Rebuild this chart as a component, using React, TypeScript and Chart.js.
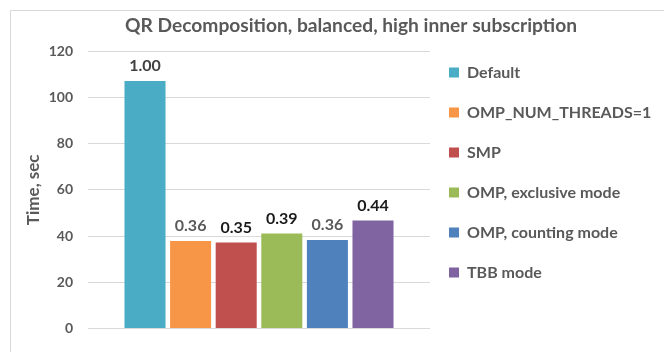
import React, { useEffect, useRef } from 'react';
import { Chart, registerables } from 'chart.js';

Chart.register(...registerables);

const categories = [''];
const seriesNames = ['Default', 'OMP_NUM_THREADS=1', 'SMP', 'OMP, exclusive mode', 'OMP, counting mode', 'TBB mode'];
const seriesValues = [107.1, 37.9, 37.2, 41.1, 38.3, 46.7];
const ratioLabels = ['1.00', '0.36', '0.35', '0.39', '0.36', '0.44'];
const seriesColors = ['#4BACC6', '#F79646', '#C0504D', '#9BBB59', '#4F81BD', '#8064A2'];
const labelColors = ['#404040', '#595959', '#1a1a1a', '#1a1a1a', '#595959', '#1a1a1a'];
const yMin = 0;
const yMax = 120;
const yStep = 20;

const FONT = 'Lato, "Open Sans", sans-serif';
const TEXT = '#595959';
const LEGEND_WIDTH = 261;

const valueLabelPlugin = {
  id: 'valueLabels',
  afterDatasetsDraw(chart: any) {
    const ctx = chart.ctx;
    ctx.save();
    ctx.font = `bold 16px ${FONT}`;
    ctx.textAlign = 'center';
    ctx.textBaseline = 'middle';
    chart.data.datasets.forEach((_ds: any, i: number) => {
      const meta = chart.getDatasetMeta(i);
      meta.data.forEach((el: any) => {
        ctx.fillStyle = labelColors[i];
        ctx.fillText(ratioLabels[i], el.x, el.y - 15);
      });
    });
    ctx.restore();
  },
};

const legendPlacePlugin = {
  id: 'legendPlace',
  beforeLayout(chart: any) {
    const lg = chart.legend;
    if (!lg || lg.__fixedFit) return;
    const origFit = lg.fit.bind(lg);
    lg.fit = function () {
      origFit();
      this.width = LEGEND_WIDTH;
    };
    lg.__fixedFit = true;
  },
  afterLayout(chart: any) {
    const lg = chart.legend;
    if (!lg) return;
    const pad = lg.options.labels.padding;
    const dx = 438 - (lg.left + pad);
    const dy = 29.5 - lg.top;
    lg.left += dx;
    lg.right += dx;
    lg.top += dy;
    lg.bottom += dy;
  },
};

export default function App() {
  const ref = useRef<HTMLCanvasElement>(null);

  useEffect(() => {
    document.body.style.margin = '0';
    const canvas = ref.current!;
    const chart = new Chart(canvas, {
      type: 'bar',
      data: {
        labels: categories,
        datasets: seriesNames.map((name, i) => ({
          label: name,
          data: [seriesValues[i]],
          backgroundColor: seriesColors[i],
          borderWidth: 0,
        })),
      },
      options: {
        animation: false,
        responsive: false,
        devicePixelRatio: 1,
        layout: { padding: { left: 0, right: 0, top: 0, bottom: 15 } },
        plugins: {
          title: {
            display: true,
            text: 'QR Decomposition, balanced, high inner subscription',
            color: TEXT,
            font: { family: FONT, size: 19.2, weight: 'bold', lineHeight: 1.2 },
            padding: { top: 3.5, bottom: 13.5 },
          },
          legend: {
            display: true,
            position: 'right',
            align: 'start',
            labels: {
              boxWidth: 10,
              boxHeight: 10,
              padding: 24,
              color: TEXT,
              font: { family: FONT, size: 16, weight: 'bold' },
            },
          },
          tooltip: { enabled: false },
        },
        scales: {
          x: {
            display: false,
            grid: { display: false },
          },
          y: {
            min: yMin,
            max: yMax,
            afterFit(scale: any) {
              scale.width = 77;
            },
            ticks: {
              stepSize: yStep,
              padding: 15,
              color: TEXT,
              font: { family: FONT, size: 14, weight: 'bold' },
            },
            border: { display: false },
            grid: { color: '#d9d9d9', drawTicks: false, lineWidth: 1 },
            title: {
              display: true,
              text: 'Time, sec',
              color: TEXT,
              font: { family: FONT, size: 17, weight: 'bold', lineHeight: 1.2 },
              padding: { top: 12.5, bottom: 0 },
            },
          },
        },
      },
      plugins: [valueLabelPlugin, legendPlacePlugin],
    });
    return () => chart.destroy();
  }, []);

  return (
    <div style={{ position: 'relative', width: 664, height: 352, overflow: 'hidden', background: '#fff' }}>
      <div
        style={{
          position: 'absolute',
          left: 10,
          top: 10,
          width: 700,
          height: 360,
          borderLeft: '1px solid #d9d9d9',
          borderTop: '1px solid #d9d9d9',
        }}
      >
        <canvas ref={ref} width={680} height={341} style={{ display: 'block' }} />
      </div>
    </div>
  );
}
